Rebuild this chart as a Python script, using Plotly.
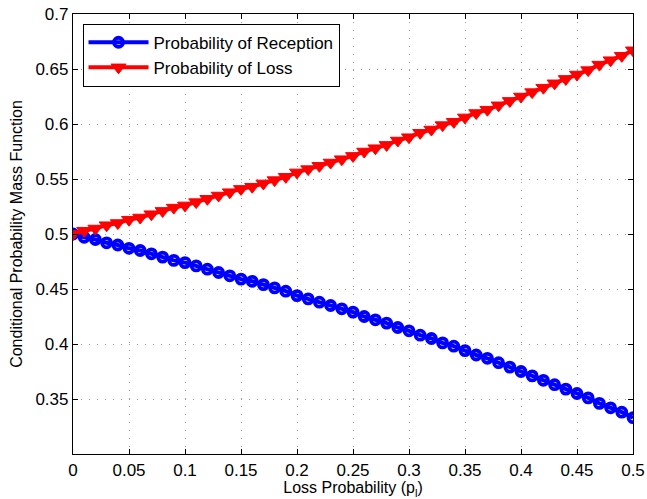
import plotly.graph_objects as go

loss_prob = [0.00, 0.01, 0.02, 0.03, 0.04, 0.05, 0.06, 0.07, 0.08, 0.09,
             0.10, 0.11, 0.12, 0.13, 0.14, 0.15, 0.16, 0.17, 0.18, 0.19,
             0.20, 0.21, 0.22, 0.23, 0.24, 0.25, 0.26, 0.27, 0.28, 0.29,
             0.30, 0.31, 0.32, 0.33, 0.34, 0.35, 0.36, 0.37, 0.38, 0.39,
             0.40, 0.41, 0.42, 0.43, 0.44, 0.45, 0.46, 0.47, 0.48, 0.49, 0.50]

p_reception = [0.500, 0.497, 0.495, 0.492, 0.490, 0.487, 0.485, 0.482, 0.479, 0.476,
               0.474, 0.471, 0.468, 0.465, 0.462, 0.459, 0.457, 0.454, 0.451, 0.448,
               0.444, 0.441, 0.438, 0.435, 0.432, 0.429, 0.425, 0.422, 0.419, 0.415,
               0.412, 0.408, 0.405, 0.401, 0.398, 0.394, 0.390, 0.387, 0.383, 0.379,
               0.375, 0.371, 0.367, 0.363, 0.359, 0.355, 0.351, 0.346, 0.342, 0.338, 0.333]

p_loss = [0.500, 0.503, 0.505, 0.508, 0.510, 0.513, 0.515, 0.518, 0.521, 0.524,
          0.526, 0.529, 0.532, 0.535, 0.538, 0.541, 0.543, 0.546, 0.549, 0.552,
          0.556, 0.559, 0.562, 0.565, 0.568, 0.571, 0.575, 0.578, 0.581, 0.585,
          0.588, 0.592, 0.595, 0.599, 0.602, 0.606, 0.610, 0.613, 0.617, 0.621,
          0.625, 0.629, 0.633, 0.637, 0.641, 0.645, 0.649, 0.654, 0.658, 0.662, 0.667]

x_ticks = [0, 0.05, 0.1, 0.15, 0.2, 0.25, 0.3, 0.35, 0.4, 0.45, 0.5]
x_tick_text = ["0", "0.05", "0.1", "0.15", "0.2", "0.25", "0.3", "0.35", "0.4", "0.45", "0.5"]
y_ticks = [0.35, 0.4, 0.45, 0.5, 0.55, 0.6, 0.65, 0.7]
y_tick_text = ["0.35", "0.4", "0.45", "0.5", "0.55", "0.6", "0.65", "0.7"]

FONT = "Liberation Sans, Arial, sans-serif"

fig = go.Figure()
fig.add_trace(go.Scatter(
    x=loss_prob, y=p_reception, mode="lines+markers",
    name="Probability of Reception",
    line=dict(color="#0000FF", width=4),
    marker=dict(symbol="circle-open", size=9, color="#0000FF", line=dict(width=3.8, color="#0000FF")),
))
fig.add_trace(go.Scatter(
    x=loss_prob, y=p_loss, mode="lines+markers",
    name="Probability of Loss",
    line=dict(color="#FF0000", width=4),
    marker=dict(symbol="triangle-down", size=13, color="#FF0000", line=dict(width=1, color="#FF0000")),
))

axis_common = dict(
    showline=True, linecolor="black", linewidth=1.2, mirror="ticks",
    ticks="inside", ticklen=5, tickcolor="black",
    showgrid=True, gridcolor="#9a9a9a", griddash="1px,7px", gridwidth=1,
    zeroline=False, automargin=False,
    tickfont=dict(family=FONT, size=17, color="black"),
)

fig.update_layout(
    width=647, height=499,
    margin=dict(l=73, r=14, t=14, b=45),
    paper_bgcolor="white", plot_bgcolor="white",
    font=dict(family=FONT, size=17, color="black"),
    xaxis=dict(range=[0, 0.5], tickvals=x_ticks, ticktext=x_tick_text,
               title=dict(text="Loss Probability (p<sub>l</sub>)", standoff=1,
                          font=dict(size=16)), **axis_common),
    yaxis=dict(range=[0.3, 0.7], tickvals=y_ticks, ticktext=y_tick_text,
               title=dict(text="Conditional Probability Mass Function", standoff=8,
                          font=dict(size=16)), **axis_common),
    legend=dict(x=0.017, y=0.978, xanchor="left", yanchor="top",
                bgcolor="white", bordercolor="black", borderwidth=1,
                font=dict(family=FONT, size=17), tracegroupgap=0, itemwidth=60),
    showlegend=True,
)

fig.write_html("out.html", config={"displayModeBar": False},
               post_script="document.body.style.margin='0';document.body.style.overflow='hidden';")
